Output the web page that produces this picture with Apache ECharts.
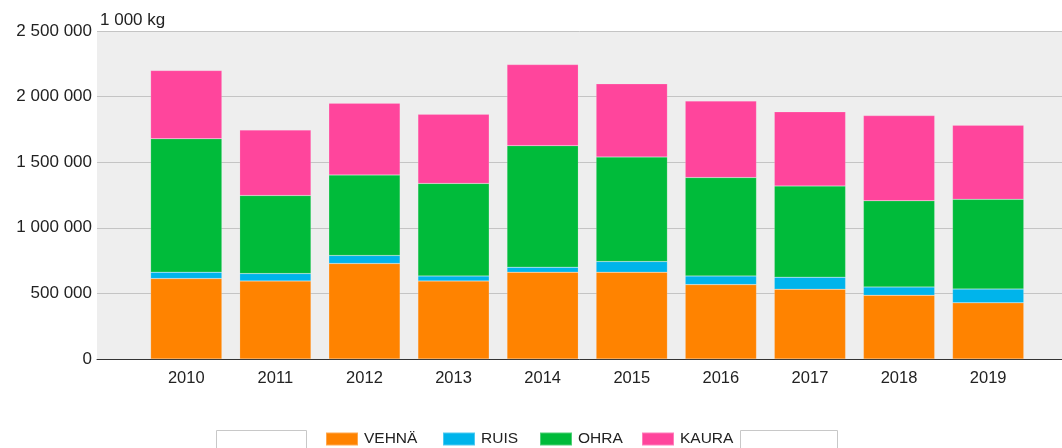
<!DOCTYPE html>
<html>

<head>
    <meta charset="utf-8">
    <title>Viljasato</title>
    <script src="https://cdn.jsdelivr.net/npm/echarts@6/dist/echarts.min.js"></script>
    <style>
        html, body { margin: 0; padding: 0; background: #fff; }
    </style>
</head>

<body>
    <div id="main" style="width: 1062px;height:448px;"></div>
    <script type="text/javascript">
        // data, 1 000 kg
        var years = ['2010', '2011', '2012', '2013', '2014', '2015', '2016', '2017', '2018', '2019'];
        var vehna = [613000, 595000, 728000, 595000, 662000, 662000, 567000, 532000, 486000, 428000];
        var ruis = [49000, 56000, 61000, 38000, 38000, 81000, 66000, 92000, 63000, 105000];
        var ohra = [1017000, 595000, 614000, 705000, 926000, 797000, 750000, 695000, 657000, 684000];
        var kaura = [520000, 499000, 547000, 527000, 618000, 557000, 583000, 565000, 649000, 565000];
        var yTicks = [0, 500000, 1000000, 1500000, 2000000, 2500000];

        var names = ['VEHNÄ', 'RUIS', 'OHRA', 'KAURA'];
        var colors = ['#ff8300', '#00b4eb', '#00bb3a', '#ff459c'];
        var legendLeft = [325, 442, 539, 641];
        var font = 'Liberation Sans, Arial, sans-serif';

        var myChart = echarts.init(document.getElementById('main'));

        function fmt(v) {
            return String(v).replace(/\B(?=(\d{3})+(?!\d))/g, ' ');
        }

        var series = [vehna, ruis, ohra, kaura].map(function (d, i) {
            return {
                name: names[i],
                type: 'bar',
                stack: 'sato',
                xAxisIndex: 1,
                yAxisIndex: 1,
                barCategoryGap: '20%',
                data: d,
                itemStyle: {
                    color: colors[i],
                    borderColor: 'rgba(255,255,255,0.3)',
                    borderWidth: 0.5
                }
            };
        });

        // one legend per item so each sits where it does in the original
        var legends = names.map(function (n, i) {
            return {
                data: [n],
                left: legendLeft[i],
                top: 431,
                padding: 0,
                icon: 'rect',
                itemWidth: 32,
                itemHeight: 13,
                itemGap: 6,
                textStyle: { color: '#222', fontSize: 15.5, fontFamily: font, padding: [0, 0, 0, 1] }
            };
        });

        var option = {
            animation: false,
            color: colors,
            legend: legends,
            // empty boxes beside the legend
            graphic: [
                { type: 'rect', shape: { x: 216.5, y: 430.5, width: 90, height: 24 }, style: { fill: '#fff', stroke: '#c8c8c8', lineWidth: 1 } },
                { type: 'rect', shape: { x: 740.5, y: 430.5, width: 97, height: 24 }, style: { fill: '#fff', stroke: '#c8c8c8', lineWidth: 1 } }
            ],
            grid: [
                // background grid, full width
                { left: 97, right: 0, top: 31, bottom: 89, show: true, backgroundColor: '#eeeeee', borderWidth: 0 },
                // bars
                { left: 141.7, right: 29.3, top: 31, bottom: 89 }
            ],
            xAxis: [{
                gridIndex: 0,
                type: 'category',
                data: years,
                axisLine: { show: true, lineStyle: { color: '#333', width: 1 } },
                axisTick: { show: false },
                axisLabel: { show: false }
            }, {
                gridIndex: 1,
                type: 'category',
                data: years,
                axisLine: { show: false },
                axisTick: { show: false },
                axisLabel: { color: '#222', fontSize: 16.5, fontFamily: font, margin: 11 }
            }],
            yAxis: [{
                gridIndex: 0,
                type: 'value',
                min: yTicks[0],
                max: yTicks[yTicks.length - 1],
                interval: yTicks[1] - yTicks[0],
                name: '1 000 kg',
                nameLocation: 'end',
                nameGap: 2,
                nameTextStyle: { color: '#222', fontSize: 17, fontFamily: font, align: 'left', padding: [0, 0, 0, 3] },
                axisLine: { show: false },
                axisTick: { show: false },
                axisLabel: {
                    color: '#222', fontSize: 17, fontFamily: font, margin: 5,
                    formatter: function (v) { return fmt(v); }
                },
                splitLine: { lineStyle: { color: '#c4c4c4', width: 1 } }
            }, {
                gridIndex: 1,
                type: 'value',
                min: yTicks[0],
                max: yTicks[yTicks.length - 1],
                interval: yTicks[1] - yTicks[0],
                show: false,
                splitLine: { show: false }
            }],
            series: series
        };

        myChart.setOption(option);
    </script>
</body>

</html>
